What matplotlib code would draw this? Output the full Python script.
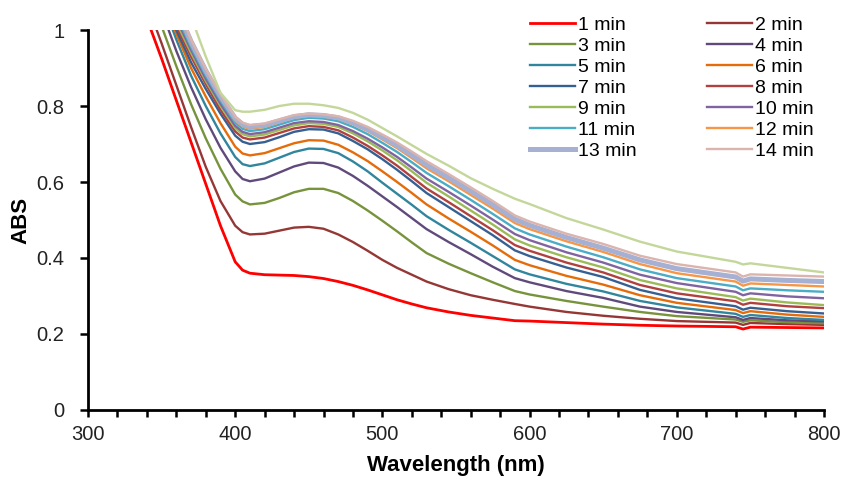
import matplotlib.pyplot as plt
from matplotlib.ticker import FuncFormatter, MultipleLocator

plt.rcParams['font.family'] = ['Liberation Sans', 'DejaVu Sans']

# wavelength grid (nm)
wl = [340, 350, 360, 370, 380, 390, 400, 405, 410, 420, 430, 440, 450, 460, 470,
      480, 490, 500, 510, 520, 530, 545, 560, 575, 590, 600, 625, 650, 675, 700,
      740, 745, 750, 775, 800]

abs_1 = [1.03, 0.925, 0.815, 0.705, 0.595, 0.485, 0.39, 0.368, 0.36, 0.356, 0.355, 0.354, 0.351, 0.346, 0.338,
         0.328, 0.316, 0.303, 0.29, 0.279, 0.269, 0.258, 0.249, 0.242, 0.235, 0.234, 0.23, 0.226, 0.223, 0.221,
         0.219, 0.213, 0.218, 0.217, 0.216]
abs_2 = [1.07, 0.965, 0.855, 0.745, 0.64, 0.55, 0.485, 0.468, 0.462, 0.464, 0.472, 0.48, 0.482, 0.477, 0.462,
         0.442, 0.419, 0.395, 0.374, 0.356, 0.338, 0.318, 0.302, 0.29, 0.279, 0.272, 0.258, 0.248, 0.24, 0.234,
         0.23, 0.224, 0.229, 0.226, 0.224]
abs_3 = [1.12, 1.01, 0.905, 0.805, 0.715, 0.635, 0.567, 0.549, 0.541, 0.545, 0.558, 0.573, 0.582, 0.582, 0.571,
         0.55, 0.525, 0.498, 0.47, 0.441, 0.413, 0.385, 0.36, 0.336, 0.313, 0.304, 0.287, 0.272, 0.258, 0.247,
         0.238, 0.232, 0.236, 0.231, 0.228]
abs_4 = [1.16, 1.05, 0.945, 0.85, 0.765, 0.69, 0.628, 0.608, 0.602, 0.609, 0.625, 0.641, 0.651, 0.65, 0.638,
         0.616, 0.59, 0.562, 0.534, 0.505, 0.476, 0.442, 0.41, 0.377, 0.347, 0.336, 0.313, 0.295, 0.272, 0.258,
         0.244, 0.237, 0.242, 0.236, 0.233]
abs_5 = [1.19, 1.08, 0.975, 0.88, 0.8, 0.728, 0.666, 0.647, 0.642, 0.649, 0.664, 0.679, 0.688, 0.687, 0.676,
         0.654, 0.628, 0.598, 0.569, 0.54, 0.51, 0.474, 0.44, 0.405, 0.37, 0.357, 0.332, 0.312, 0.287, 0.27,
         0.253, 0.245, 0.25, 0.242, 0.237]
abs_6 = [1.21, 1.1, 0.99, 0.9, 0.825, 0.755, 0.693, 0.675, 0.67, 0.676, 0.689, 0.702, 0.71, 0.709, 0.698,
         0.678, 0.655, 0.628, 0.6, 0.571, 0.541, 0.504, 0.469, 0.433, 0.395, 0.381, 0.353, 0.33, 0.302, 0.282,
         0.263, 0.255, 0.26, 0.251, 0.245]
abs_7 = [1.23, 1.12, 1.0, 0.915, 0.845, 0.78, 0.722, 0.706, 0.7, 0.705, 0.718, 0.732, 0.739, 0.738, 0.728,
         0.708, 0.686, 0.66, 0.632, 0.602, 0.571, 0.534, 0.497, 0.46, 0.42, 0.405, 0.375, 0.35, 0.316, 0.294,
         0.273, 0.264, 0.269, 0.26, 0.254]
abs_8 = [1.24, 1.13, 1.01, 0.93, 0.858, 0.79, 0.733, 0.717, 0.712, 0.717, 0.729, 0.741, 0.747, 0.745, 0.736,
         0.717, 0.695, 0.67, 0.643, 0.613, 0.583, 0.547, 0.51, 0.473, 0.434, 0.419, 0.388, 0.362, 0.329, 0.307,
         0.286, 0.277, 0.282, 0.273, 0.268]
abs_9 = [1.25, 1.14, 1.02, 0.94, 0.866, 0.8, 0.742, 0.726, 0.72, 0.725, 0.737, 0.749, 0.755, 0.753, 0.745,
         0.728, 0.707, 0.683, 0.657, 0.628, 0.598, 0.562, 0.525, 0.488, 0.449, 0.433, 0.402, 0.375, 0.342, 0.32,
         0.297, 0.288, 0.293, 0.283, 0.276]
abs_10 = [1.26, 1.15, 1.03, 0.948, 0.872, 0.806, 0.748, 0.732, 0.726, 0.731, 0.743, 0.755, 0.76, 0.758, 0.75,
          0.734, 0.714, 0.691, 0.666, 0.638, 0.609, 0.574, 0.538, 0.501, 0.463, 0.447, 0.415, 0.388, 0.356, 0.334,
          0.311, 0.302, 0.307, 0.299, 0.294]
abs_11 = [1.27, 1.16, 1.04, 0.955, 0.88, 0.814, 0.756, 0.74, 0.734, 0.739, 0.751, 0.763, 0.769, 0.767, 0.76,
          0.745, 0.726, 0.703, 0.679, 0.652, 0.624, 0.589, 0.553, 0.516, 0.478, 0.462, 0.43, 0.402, 0.37, 0.347,
          0.325, 0.315, 0.32, 0.315, 0.311]
abs_12 = [1.28, 1.17, 1.05, 0.962, 0.887, 0.82, 0.762, 0.746, 0.74, 0.745, 0.757, 0.769, 0.774, 0.772, 0.766,
          0.752, 0.734, 0.712, 0.689, 0.663, 0.636, 0.602, 0.566, 0.53, 0.492, 0.476, 0.444, 0.416, 0.384, 0.36,
          0.338, 0.327, 0.333, 0.329, 0.325]
abs_13 = [1.29, 1.18, 1.06, 0.97, 0.893, 0.826, 0.768, 0.752, 0.746, 0.75, 0.761, 0.772, 0.777, 0.775, 0.769,
          0.756, 0.739, 0.718, 0.696, 0.671, 0.645, 0.611, 0.576, 0.54, 0.502, 0.486, 0.454, 0.426, 0.395, 0.372,
          0.35, 0.339, 0.345, 0.341, 0.338]
abs_14 = [1.3, 1.19, 1.07, 0.975, 0.898, 0.831, 0.772, 0.756, 0.75, 0.754, 0.765, 0.776, 0.78, 0.778, 0.773,
          0.761, 0.745, 0.725, 0.704, 0.68, 0.655, 0.621, 0.586, 0.55, 0.512, 0.496, 0.464, 0.437, 0.406, 0.384,
          0.362, 0.351, 0.357, 0.354, 0.351]
abs_15 = [1.4, 1.27, 1.15, 1.035, 0.93, 0.835, 0.789, 0.785, 0.785, 0.79, 0.8, 0.806, 0.806, 0.802, 0.795,
          0.782, 0.764, 0.742, 0.72, 0.697, 0.674, 0.643, 0.61, 0.582, 0.556, 0.542, 0.505, 0.475, 0.443, 0.417,
          0.39, 0.383, 0.386, 0.374, 0.362]

series = [abs_1, abs_2, abs_3, abs_4, abs_5, abs_6, abs_7, abs_8, abs_9, abs_10,
          abs_11, abs_12, abs_13, abs_14, abs_15]
labels = ['1 min', '2 min', '3 min', '4 min', '5 min', '6 min', '7 min', '8 min',
          '9 min', '10 min', '11 min', '12 min', '13 min', '14 min', '_nolegend_']
colors = ['#ff0000', '#953735', '#77933c', '#604a7b', '#31859c', '#e46c0a', '#376092',
          '#b0413e', '#9bbb59', '#8064a2', '#4bacc6', '#f79646', '#a6b0d2', '#dbb4ae',
          '#c4d79b']
widths = [2.0, 1.7, 1.7, 1.7, 1.7, 1.7, 1.7, 1.7, 1.7, 1.7, 1.7, 1.7, 3.6, 1.7, 1.7]

fig = plt.figure(figsize=(8.42, 4.78), dpi=100)
ax = fig.add_axes([0.1045, 0.1423, 0.8741, 0.7949])

handles = []
for y, lab, c, lw in zip(series, labels, colors, widths):
    h, = ax.plot(wl, y, color=c, lw=lw, label=lab, solid_joinstyle='round')
    handles.append(h)

ax.set_xlim(300, 800)
ax.set_ylim(0, 1)
ax.xaxis.set_major_locator(MultipleLocator(100))
ax.xaxis.set_minor_locator(MultipleLocator(20))
ax.yaxis.set_major_locator(MultipleLocator(0.2))
ax.yaxis.set_major_formatter(FuncFormatter(lambda v, p: '{:g}'.format(round(v, 2))))

for side in ['top', 'right']:
    ax.spines[side].set_visible(False)
for side in ['left', 'bottom']:
    ax.spines[side].set_linewidth(2)
ax.tick_params(axis='both', which='both', direction='out', width=1.8, length=5,
               labelsize=14.5, colors='black', labelcolor='#222222')
ax.tick_params(axis='x', which='major', pad=6)
ax.tick_params(axis='y', which='major', length=6, pad=11)

ax.set_xlabel('Wavelength (nm)', fontsize=16, fontweight='bold', va='baseline')
ax.xaxis.set_label_coords(0.5, -0.16)
ax.set_ylabel('ABS', fontsize=16, fontweight='bold')
ax.yaxis.set_label_coords(-0.0775, 0.5)

# legend reads row by row: odd minutes left, even minutes right
order = [0, 2, 4, 6, 8, 10, 12, 1, 3, 5, 7, 9, 11, 13]
leg = ax.legend([handles[i] for i in order], [labels[i] for i in order],
                ncol=2, frameon=False, fontsize=14, loc='upper left',
                bbox_to_anchor=(0.6005, 1.036), handlelength=2.3, handletextpad=0.15,
                labelspacing=0.175, columnspacing=3.65, borderaxespad=0, borderpad=0)

fig.savefig('out.png', dpi=100)
